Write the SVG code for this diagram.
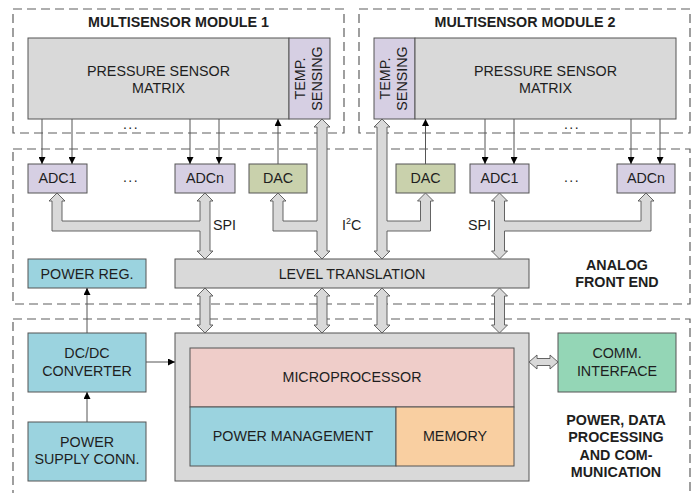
<svg xmlns="http://www.w3.org/2000/svg" width="697" height="493" viewBox="0 0 697 493">
  <style>
    .frame { fill: none; stroke: #5f5f5f; stroke-width: 1.2; stroke-dasharray: 9 5; }
    .box { stroke: #555; stroke-width: 1; }
    .gray { fill: #d9d9d9; }
    .lav { fill: #d6cfe3; }
    .dac { fill: #c9d1ac; }
    .cyan { fill: #9bd3df; }
    .pink { fill: #efcdc9; }
    .peach { fill: #f9cfa1; }
    .green { fill: #94d6b6; }
    .lbl { font-family: "Liberation Sans", Arial, sans-serif; font-size: 14.3px; fill: #1e1e1e; text-anchor: middle; }
    .ttl { font-family: "Liberation Sans", Arial, sans-serif; font-size: 14.3px; font-weight: bold; fill: #1e1e1e; text-anchor: middle; }
    .dots { font-family: "Liberation Sans", Arial, sans-serif; font-size: 14px; fill: #1e1e1e; text-anchor: middle; letter-spacing: 1.5px; }
    .bus { fill: #d9d9d9; stroke: #555; stroke-width: 0.9; stroke-linejoin: miter; }
    .wire { stroke: #555; stroke-width: 1; fill: none; marker-end: url(#tip); }
  </style>
  <defs>
    <marker id="tip" viewBox="0 0 10 10" refX="10" refY="5" markerWidth="7" markerHeight="7" markerUnits="userSpaceOnUse" orient="auto">
      <path d="M0,0 L10,5 L0,10 z" fill="#000"/>
    </marker>
  </defs>
  <rect width="697" height="493" fill="#fff"/>

  <!-- dashed section frames -->
  <g id="frames">
    <rect class="frame" x="13" y="9" width="331" height="124"/>
    <rect class="frame" x="359" y="9" width="331" height="124"/>
    <rect class="frame" x="13" y="149" width="677" height="155"/>
    <rect class="frame" x="13" y="319" width="677" height="190"/>
  </g>

  <!-- section titles -->
  <g id="titles">
    <text class="ttl" x="178.5" y="27">MULTISENSOR MODULE 1</text>
    <text class="ttl" x="525" y="27">MULTISENSOR MODULE 2</text>
    <text class="ttl" x="617" y="270">ANALOG</text>
    <text class="ttl" x="617" y="287">FRONT END</text>
    <text class="ttl" x="616" y="425">POWER, DATA</text>
    <text class="ttl" x="616" y="442">PROCESSING</text>
    <text class="ttl" x="616" y="460">AND COM-</text>
    <text class="ttl" x="616" y="477">MUNICATION</text>
  </g>

  <!-- module 1 -->
  <g id="psm1">
    <rect class="box gray" x="28" y="38" width="261" height="81"/>
    <text class="lbl" x="158.5" y="76">PRESSURE SENSOR</text>
    <text class="lbl" x="158.5" y="93">MATRIX</text>
  </g>
  <g id="temp1">
    <rect class="box lav" x="289" y="38" width="41" height="81"/>
    <text class="lbl" transform="translate(305,78.5) rotate(-90)">TEMP.</text>
    <text class="lbl" transform="translate(322,78.5) rotate(-90)">SENSING</text>
  </g>

  <!-- module 2 -->
  <g id="temp2">
    <rect class="box lav" x="374" y="38" width="41" height="81"/>
    <text class="lbl" transform="translate(390,78.5) rotate(-90)">TEMP.</text>
    <text class="lbl" transform="translate(407,78.5) rotate(-90)">SENSING</text>
  </g>
  <g id="psm2">
    <rect class="box gray" x="415" y="38" width="261" height="81"/>
    <text class="lbl" x="545.5" y="76">PRESSURE SENSOR</text>
    <text class="lbl" x="545.5" y="93">MATRIX</text>
  </g>

  <!-- analog front end -->
  <g id="adc1-left">
    <rect class="box lav" x="28" y="164" width="59" height="29"/>
    <text class="lbl" x="57.5" y="183">ADC1</text>
  </g>
  <g id="adcn-left">
    <rect class="box lav" x="175" y="164" width="60" height="29"/>
    <text class="lbl" x="205" y="183">ADCn</text>
  </g>
  <g id="dac-left">
    <rect class="box dac" x="249" y="164" width="58" height="29"/>
    <text class="lbl" x="278" y="183">DAC</text>
  </g>
  <g id="dac-right">
    <rect class="box dac" x="396" y="164" width="59" height="29"/>
    <text class="lbl" x="425.5" y="183">DAC</text>
  </g>
  <g id="adc1-right">
    <rect class="box lav" x="470" y="164" width="59" height="29"/>
    <text class="lbl" x="499.5" y="183">ADC1</text>
  </g>
  <g id="adcn-right">
    <rect class="box lav" x="617" y="164" width="58" height="29"/>
    <text class="lbl" x="646" y="183">ADCn</text>
  </g>
  <g id="power-reg">
    <rect class="box cyan" x="28" y="259" width="118" height="29"/>
    <text class="lbl" x="87" y="279">POWER REG.</text>
  </g>
  <g id="level-translation">
    <rect class="box gray" x="175" y="259" width="354" height="29"/>
    <text class="lbl" x="352" y="279">LEVEL TRANSLATION</text>
  </g>

  <!-- power, data processing and communication -->
  <g id="dcdc">
    <rect class="box cyan" x="28" y="333" width="118" height="59"/>
    <text class="lbl" x="87" y="358">DC/DC</text>
    <text class="lbl" x="87" y="376">CONVERTER</text>
  </g>
  <g id="psu-conn">
    <rect class="box cyan" x="28" y="422" width="118" height="59"/>
    <text class="lbl" x="87" y="447">POWER</text>
    <text class="lbl" x="87" y="464">SUPPLY CONN.</text>
  </g>
  <g id="processor-unit">
    <rect class="box gray" x="175" y="333" width="354" height="148"/>
  </g>
  <g id="microprocessor">
    <rect class="box pink" x="190" y="348" width="324" height="59"/>
    <text class="lbl" x="352" y="382">MICROPROCESSOR</text>
  </g>
  <g id="power-management">
    <rect class="box cyan" x="190" y="407" width="206" height="59"/>
    <text class="lbl" x="293" y="441">POWER MANAGEMENT</text>
  </g>
  <g id="memory">
    <rect class="box peach" x="396" y="407" width="118" height="59"/>
    <text class="lbl" x="455" y="441">MEMORY</text>
  </g>
  <g id="comm-interface">
    <rect class="box green" x="558" y="333" width="118" height="59"/>
    <text class="lbl" x="617" y="358">COMM.</text>
    <text class="lbl" x="617" y="376">INTERFACE</text>
  </g>

  <!-- connectors -->
  <g id="connectors">
    <!-- sensor lines into the ADCs -->
    <line class="wire" x1="42" y1="119" x2="42" y2="164"/>
    <line class="wire" x1="72" y1="119" x2="72" y2="164"/>
    <line class="wire" x1="190" y1="119" x2="190" y2="164"/>
    <line class="wire" x1="219" y1="119" x2="219" y2="164"/>
    <line class="wire" x1="485" y1="119" x2="485" y2="164"/>
    <line class="wire" x1="514" y1="119" x2="514" y2="164"/>
    <line class="wire" x1="631" y1="119" x2="631" y2="164"/>
    <line class="wire" x1="660" y1="119" x2="660" y2="164"/>
    <!-- DAC drive lines -->
    <line class="wire" x1="278" y1="164" x2="278" y2="119"/>
    <line class="wire" x1="425.5" y1="164" x2="425.5" y2="119"/>
    <!-- power lines -->
    <line class="wire" x1="87" y1="333" x2="87" y2="288"/>
    <line class="wire" x1="146" y1="362" x2="175" y2="362"/>
    <line class="wire" x1="87" y1="422" x2="87" y2="392"/>

    <!-- SPI bus, left -->
    <path class="bus" d="M57,193 L65,201 L62,201 L62,221 L200,221 L200,201 L197,201 L205,193 L213,201 L210,201 L210,251 L213,251 L205,259 L197,251 L200,251 L200,231 L52,231 L52,201 L49,201 Z"/>
    <!-- I2C bus, left -->
    <path class="bus" d="M278,193 L286,201 L283,201 L283,221 L317,221 L317,127 L314,127 L322,119 L330,127 L327,127 L327,251 L330,251 L322,259 L314,251 L317,251 L317,231 L273,231 L273,201 L270,201 Z"/>
    <!-- I2C bus, right -->
    <path class="bus" d="M382,119 L390,127 L387,127 L387,221 L420.5,221 L420.5,201 L417.5,201 L425.5,193 L433.5,201 L430.5,201 L430.5,231 L387,231 L387,251 L390,251 L382,259 L374,251 L377,251 L377,127 L374,127 Z"/>
    <!-- SPI bus, right -->
    <path class="bus" d="M499.5,193 L507.5,201 L504.5,201 L504.5,221 L641,221 L641,201 L638,201 L646,193 L654,201 L651,201 L651,231 L504.5,231 L504.5,251 L507.5,251 L499.5,259 L491.5,251 L494.5,251 L494.5,201 L491.5,201 Z"/>

    <!-- level translation to processor -->
    <path class="bus" d="M205,288 L213,296 L210,296 L210,325 L213,325 L205,333 L197,325 L200,325 L200,296 L197,296 Z"/>
    <path class="bus" d="M322,288 L330,296 L327,296 L327,325 L330,325 L322,333 L314,325 L317,325 L317,296 L314,296 Z"/>
    <path class="bus" d="M382,288 L390,296 L387,296 L387,325 L390,325 L382,333 L374,325 L377,325 L377,296 L374,296 Z"/>
    <path class="bus" d="M499.5,288 L507.5,296 L504.5,296 L504.5,325 L507.5,325 L499.5,333 L491.5,325 L494.5,325 L494.5,296 L491.5,296 Z"/>

    <!-- processor to communication interface -->
    <path class="bus" d="M529,362 L537,355 L537,358.5 L550,358.5 L550,355 L558,362 L550,369 L550,365.5 L537,365.5 L537,369 Z"/>
  </g>

  <!-- bus and ellipsis labels -->
  <g id="annotations">
    <text class="lbl" x="213" y="230" style="text-anchor:start">SPI</text>
    <text class="lbl" x="468" y="230" style="text-anchor:start">SPI</text>
    <text class="lbl" x="342" y="230" style="text-anchor:start">I<tspan font-size="9" dy="-6">2</tspan><tspan dy="6">C</tspan></text>
    <text class="dots" x="131" y="129">...</text>
    <text class="dots" x="131" y="182">...</text>
    <text class="dots" x="572" y="129">...</text>
    <text class="dots" x="572" y="182">...</text>
  </g>
</svg>
